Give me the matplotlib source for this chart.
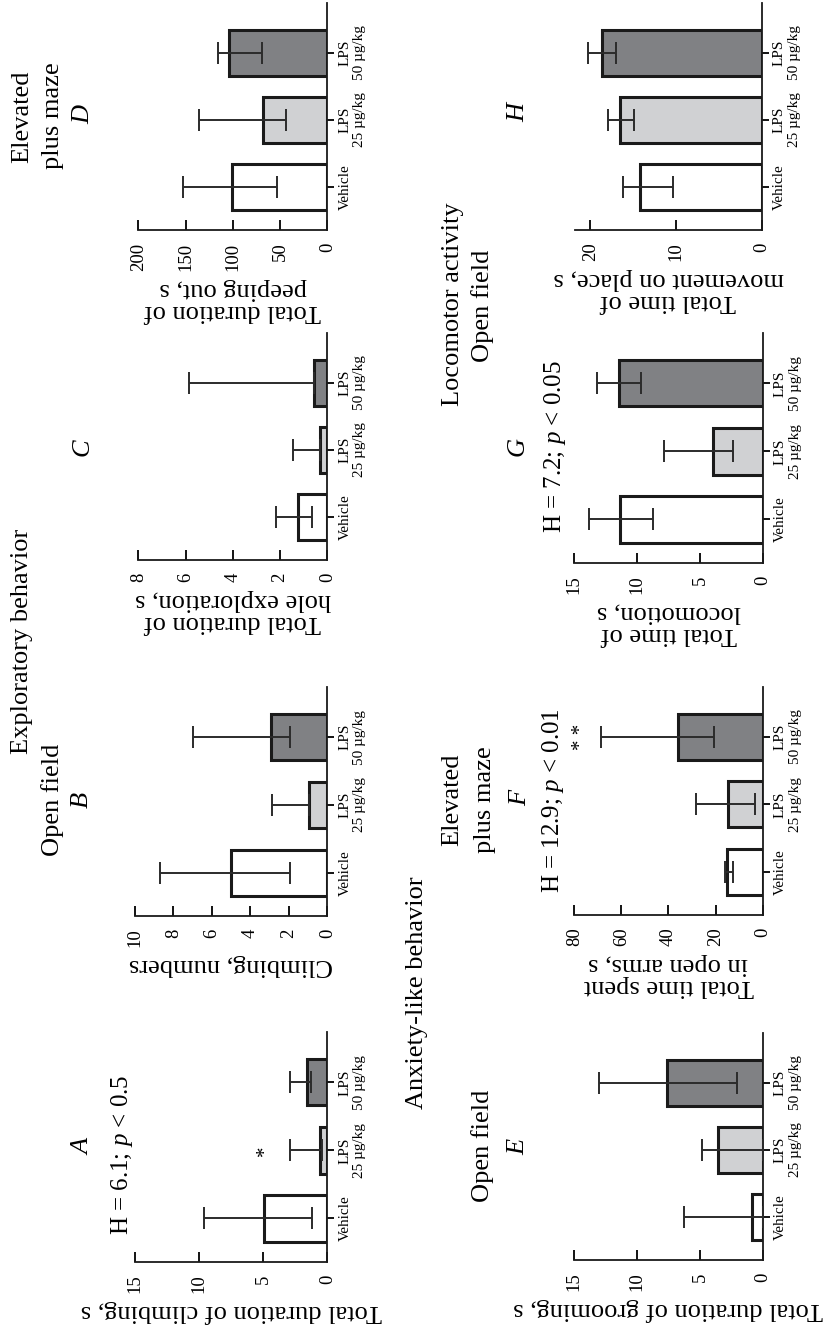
import numpy as np
from matplotlib import pyplot as plt

plt.rcParams["font.family"] = ["Liberation Serif", "DejaVu Serif"]
plt.rcParams["mathtext.fontset"] = "custom"
plt.rcParams["mathtext.rm"] = "Liberation Serif"
plt.rcParams["mathtext.it"] = "Liberation Serif:italic"

W, H = 829, 1332

groups = ["Vehicle", "LPS\n25 µg/kg", "LPS\n50 µg/kg"]
bar_colors = ["white", "#d0d1d3", "#808184"]

# A - open field, climbing duration (median, lower, upper)
climb_time = [4.9, 0.57, 1.6]
climb_time_lo = [1.2, 0.45, 1.3]
climb_time_hi = [9.6, 2.9, 2.9]
# B - open field, climbing count
climb_num = [5.0, 0.95, 2.93]
climb_num_lo = [1.94, 0.95, 1.94]
climb_num_hi = [8.7, 2.9, 6.97]
# C - hole exploration
hole = [1.25, 0.31, 0.56]
hole_lo = [0.66, 0.31, 0.56]
hole_hi = [2.17, 1.44, 5.84]
# D - elevated plus maze, peeping out
peep = [101.0, 67.7, 103.7]
peep_lo = [53.5, 43.7, 69.4]
peep_hi = [152.4, 135.8, 115.3]
# E - open field, grooming
groom = [0.83, 3.58, 7.64]
groom_lo = [0.0, 0.0, 2.07]
groom_hi = [6.24, 4.86, 13.0]
# F - elevated plus maze, open arms
open_arms = [15.0, 14.6, 36.1]
open_arms_lo = [12.7, 3.3, 20.6]
open_arms_hi = [16.0, 28.3, 68.7]
# G - locomotion
locomotion = [11.36, 3.93, 11.44]
locomotion_lo = [8.76, 2.34, 9.7]
locomotion_hi = [13.8, 7.86, 13.2]
# H - movement on place
move_place = [14.2, 16.6, 18.7]
move_place_lo = [10.4, 14.9, 17.0]
move_place_hi = [16.2, 18.0, 20.3]

fig = plt.figure(figsize=(W / 100, H / 100), dpi=100)


def px_axes(x0, x1, ytop, ybot):
    return fig.add_axes([x0 / W, 1 - ybot / H, (x1 - x0) / W, (ybot - ytop) / H])


def ftext(x, y, s, size=19, **kw):
    fig.text(x / W, 1 - y / H, s, rotation=90, ha="center", va="center", fontsize=size, **kw)


def panel(ax, vals, lo, hi, xmax, ticks, label):
    y = np.arange(len(groups))
    vals = np.array(vals)
    lo = np.array(lo)
    hi = np.array(hi)
    ax.barh(y, vals, height=0.68, color=bar_colors, edgecolor="#1a1a1a", linewidth=2.2, zorder=2)
    ax.errorbar(vals, y, xerr=[vals - lo, hi - vals], fmt="none", ecolor="#2b2b2b",
                elinewidth=1.4, capsize=8, capthick=1.4, zorder=3)
    ax.set_xlim(xmax, 0)
    ax.set_ylim(-0.64, 2.74)
    ax.set_xticks(ticks)
    ax.set_xticklabels([str(t) for t in ticks], rotation=90, fontsize=13.5)
    ax.yaxis.tick_right()
    ax.set_yticks(y)
    ax.set_yticklabels(groups, rotation=90, va="center", ha="left", multialignment="center", fontsize=11)
    for side in ("top", "left"):
        ax.spines[side].set_visible(False)
    for side in ("bottom", "right"):
        ax.spines[side].set_linewidth(1.3)
        ax.spines[side].set_color("#1a1a1a")
    ax.tick_params(axis="x", direction="in", length=7, width=1.3, pad=9)
    ax.tick_params(axis="y", direction="out", length=5, width=1.3, pad=3)
    ax.set_xlabel(label, rotation=180, fontsize=19, linespacing=1.0, labelpad=5)
    ax.patch.set_visible(False)


axD = px_axes(138.3, 327.3, 3, 230)
panel(axD, peep, peep_lo, peep_hi, 200, [0, 50, 100, 150, 200], "Total duration of\npeeping out, s")
axC = px_axes(138.3, 327.3, 333, 560)
panel(axC, hole, hole_lo, hole_hi, 8, [0, 2, 4, 6, 8], "Total duration of\nhole exploration, s")
axB = px_axes(135, 327.3, 687, 916)
panel(axB, climb_num, climb_num_lo, climb_num_hi, 10, [0, 2, 4, 6, 8, 10], "Climbing, numbers")
axA = px_axes(135, 327.3, 1032, 1262)
panel(axA, climb_time, climb_time_lo, climb_time_hi, 15, [0, 5, 10, 15], "Total duration of climbing, s")
axA.text(4.86, 1, "*", rotation=90, ha="center", va="center", fontsize=15)

axH = px_axes(575, 761.7, 3, 230)
panel(axH, move_place, move_place_lo, move_place_hi, 21.8, [0, 10, 20], "Total time of\nmovement on place, s")
axG = px_axes(574.3, 762.7, 333, 563)
panel(axG, locomotion, locomotion_lo, locomotion_hi, 15, [0, 5, 10, 15], "Total time of\nlocomotion, s")
axF = px_axes(574.3, 762.7, 687, 915)
panel(axF, open_arms, open_arms_lo, open_arms_hi, 80, [0, 20, 40, 60, 80], "Total time spent\nin open arms, s")
axF.text(77, 2, "* *", rotation=90, ha="center", va="center", fontsize=15)
axE = px_axes(574.3, 762.7, 1033, 1260)
panel(axE, groom, groom_lo, groom_hi, 15, [0, 5, 10, 15], "Total duration of grooming, s")

# headers, left column
ftext(22, 641, "Exploratory behavior")
ftext(22, 117, "Elevated")
ftext(53, 116, "plus maze")
ftext(83, 115, "D", style="italic")
ftext(83, 447, "C", style="italic")
ftext(53, 800, "Open field")
ftext(82, 800, "B", style="italic")
ftext(83, 1147, "A", style="italic")
ftext(122, 1155, r"H = 6.1; $p$ < 0.5", size=18)

# headers, right column
ftext(417, 993, "Anxiety-like behavior")
ftext(483, 1146, "Open field")
ftext(518, 1147, "E", style="italic")
ftext(452, 800, "Elevated")
ftext(485, 800, "plus maze")
ftext(520, 798, "F", style="italic")
ftext(553, 801, r"H = 12.9; $p$ < 0.01", size=18)
ftext(518, 447, "G", style="italic")
ftext(555, 447, r"H = 7.2; $p$ < 0.05", size=18)
ftext(453, 304, "Locomotor activity")
ftext(483, 306, "Open field")
ftext(518, 113, "H", style="italic")

fig.savefig("out.png", dpi=100)
